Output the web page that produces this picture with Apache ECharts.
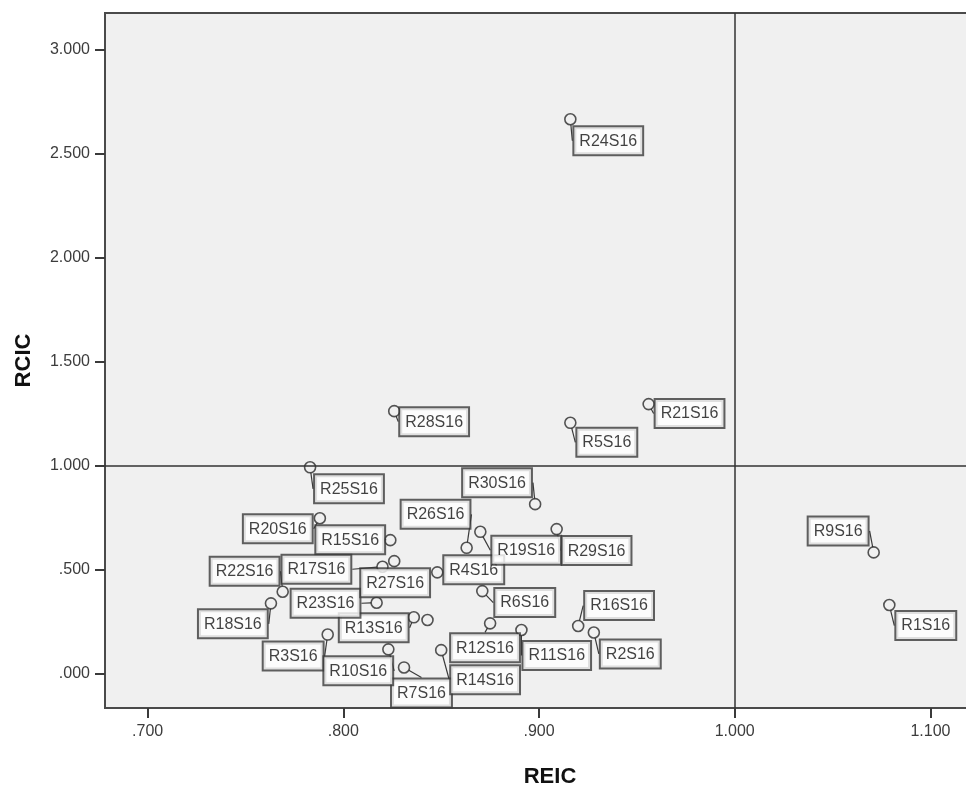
<!DOCTYPE html>
<html>
<head>
<meta charset="utf-8">
<title>REIC vs RCIC</title>
<script src="https://cdn.jsdelivr.net/npm/echarts@6/dist/echarts.min.js"></script>
<style>
  html, body { margin: 0; padding: 0; background: #ffffff; }
  #chart { width: 966px; height: 792px; }
</style>
</head>
<body>
<div id="chart"></div>
<script>
// Region codes
const names = ['R1S16','R2S16','R3S16','R4S16','R5S16','R6S16','R7S16','R8S16','R9S16','R10S16',
               'R11S16','R12S16','R13S16','R14S16','R15S16','R16S16','R17S16','R18S16','R19S16','R20S16',
               'R21S16','R22S16','R23S16','R24S16','R25S16','R26S16','R27S16','R28S16','R29S16','R30S16'];

// REIC (x) values
const reic = [1.079, 0.928, 0.792, 0.848, 0.916, 0.871, 0.831, 0.843, 1.071, 0.823,
              0.891, 0.875, 0.836, 0.850, 0.824, 0.920, 0.820, 0.763, 0.870, 0.788,
              0.956, 0.769, 0.817, 0.916, 0.783, 0.863, 0.826, 0.826, 0.909, 0.898];

// RCIC (y) values
const rcic = [0.332, 0.200, 0.190, 0.489, 1.208, 0.399, 0.032, 0.260, 0.585, 0.119,
              0.212, 0.244, 0.273, 0.115, 0.644, 0.231, 0.516, 0.340, 0.684, 0.749,
              1.298, 0.396, 0.343, 2.667, 0.994, 0.607, 0.543, 1.264, 0.697, 0.817];

// Reference thresholds
const reicRef = 1.0;
const rcicRef = 1.0;

// Tick values
const xTicks = [0.7, 0.8, 0.9, 1.0, 1.1];
const yTicks = [0, 0.5, 1.0, 1.5, 2.0, 2.5, 3.0];

// Label box offsets (top-left corner relative to the marker centre, px); null = no label
const labelOffsets = [
  [7, 7], [7, 8], [-64, 8], [7, -16], [7, 6], [13, -2], [-12, 12], null, [-65, -35], [-64, 8],
  [2, 12], [-39, 11], [-74, -3], [10, 16], [-74, -14], [7, -34], [-100, -11], [-72, 7], [12, 5], [-76, -3],
  [7, -4], [-72, -34], [-85, -13], [4, 8], [5, 8], [-65, -47], [-33, 8], [6, -3], [6, 8], [-72, -35]
];

function fmt(v) {
  const s = v.toFixed(3);
  return s.startsWith('0.') ? s.slice(1) : s;
}

const points = names.map((n, i) => {
  const item = { name: n, value: [reic[i], rcic[i]] };
  if (!labelOffsets[i]) item.label = { show: false };
  return item;
});

const axisFont = { fontFamily: 'Liberation Sans, Arial, sans-serif', fontSize: 16, color: '#3c3c3c' };
const titleFont = { fontFamily: 'Liberation Sans, Arial, sans-serif', fontSize: 22, fontWeight: 'bold', color: '#111' };

const chart = echarts.init(document.getElementById('chart'), null, { renderer: 'canvas' });

chart.setOption({
  animation: false,
  backgroundColor: '#ffffff',
  grid: {
    left: 105, top: 13, right: -29, bottom: 84,
    containLabel: false,
    outerBoundsMode: 'none',
    show: true,
    backgroundColor: '#f0f0f0',
    borderColor: '#4a4a4a',
    borderWidth: 2
  },
  xAxis: {
    type: 'value',
    min: 0.6782, max: 1.133,
    name: 'REIC',
    nameLocation: 'middle',
    nameGap: 58,
    nameTextStyle: titleFont,
    splitLine: { show: false },
    axisLine: { show: true, onZero: false, lineStyle: { color: '#4a4a4a', width: 2 } },
    axisTick: { show: true, length: 10, customValues: xTicks, lineStyle: { color: '#3a3a3a', width: 2 } },
    axisLabel: Object.assign({ customValues: xTicks, margin: 16, formatter: fmt }, axisFont)
  },
  yAxis: {
    type: 'value',
    min: -0.163, max: 3.178,
    name: 'RCIC',
    nameLocation: 'middle',
    nameGap: 70,
    nameRotate: 90,
    nameTextStyle: titleFont,
    splitLine: { show: false },
    axisLine: { show: true, onZero: false, lineStyle: { color: '#4a4a4a', width: 2 } },
    axisTick: { show: true, length: 10, customValues: yTicks, lineStyle: { color: '#3a3a3a', width: 2 } },
    axisLabel: Object.assign({ customValues: yTicks, margin: 15, formatter: fmt }, axisFont)
  },
  series: [{
    type: 'scatter',
    data: points,
    symbol: 'circle',
    symbolSize: 11,
    itemStyle: { color: 'rgba(0,0,0,0)', borderColor: '#2a2a2a', borderWidth: 1.6 },
    emphasis: { disabled: true },
    label: {
      show: true,
      position: 'inside',
      formatter: p => p.name,
      fontFamily: 'Liberation Sans, Arial, sans-serif',
      fontSize: 16,
      lineHeight: 18,
      color: '#111',
      backgroundColor: '#ffffff',
      borderColor: '#3a3a3a',
      borderWidth: 2,
      padding: [5, 5, 4, 5]
    },
    labelLine: { show: true, lineStyle: { color: '#3a3a3a', width: 1.2 } },
    labelLayout: function (params) {
      const off = labelOffsets[params.dataIndex];
      if (!off) return {};
      const r = params.rect;
      return {
        x: r.x + r.width / 2 + off[0],
        y: r.y + r.height / 2 + off[1],
        align: 'left',
        verticalAlign: 'top'
      };
    },
    markLine: {
      silent: true,
      symbol: 'none',
      label: { show: false },
      lineStyle: { color: '#333', width: 1.5, type: 'solid' },
      data: [{ xAxis: reicRef }, { yAxis: rcicRef }]
    },
    z: 3
  }]
});
</script>
</body>
</html>
